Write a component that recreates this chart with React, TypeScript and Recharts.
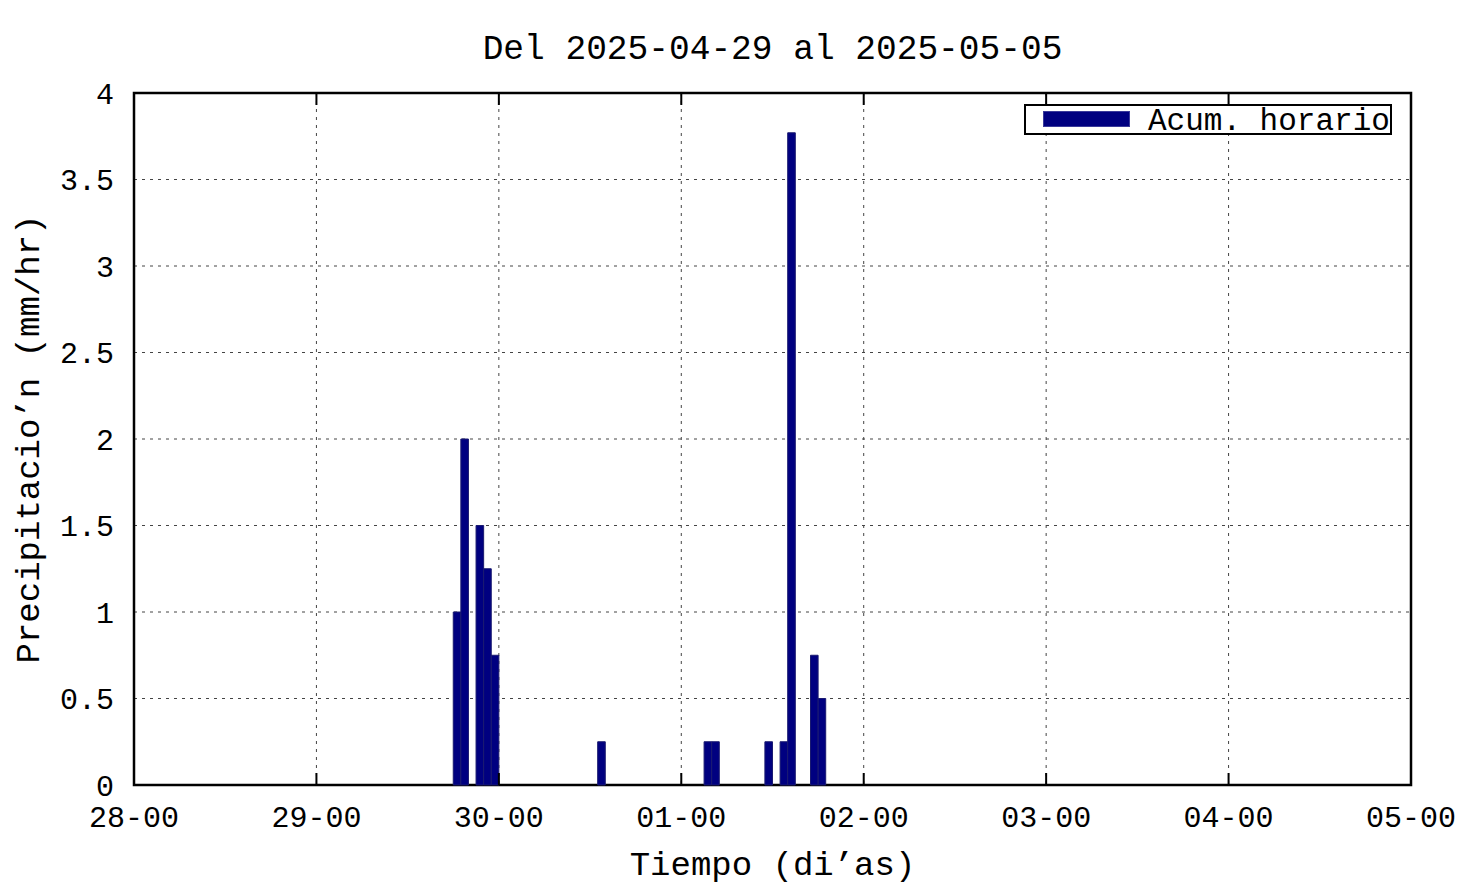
import React from 'react';
import { BarChart, Bar, XAxis, YAxis, CartesianGrid, Legend, ReferenceArea } from 'recharts';

// Hours since 2025-04-28 00:00 at which each hourly accumulation bar starts
const barHours = [42, 43, 45, 46, 47, 61, 75, 76, 83, 85, 86, 89, 90];
// Hourly precipitation (mm/hr)
const barValues = [1.0, 2.0, 1.5, 1.25, 0.75, 0.25, 0.25, 0.25, 0.25, 0.25, 3.77, 0.75, 0.5];

const xTicks = [0, 24, 48, 72, 96, 120, 144, 168];
const xTickLabels = ['28-00', '29-00', '30-00', '01-00', '02-00', '03-00', '04-00', '05-00'];
const yTicks = [0, 0.5, 1, 1.5, 2, 2.5, 3, 3.5, 4];
const yTickLabels = ['0', '0.5', '1', '1.5', '2', '2.5', '3', '3.5', '4'];

const title = 'Del 2025-04-29 al 2025-05-05';
const xLabel = 'Tiempo (di\u2019as)';
const yLabel = 'Precipitacio\u2019n (mm/hr)';
const seriesName = 'Acum. horario';

const data = barHours.map((h, i) => ({ t: h + 0.5, v: barValues[i] }));

const FONT = '"Liberation Mono", "DejaVu Sans Mono", monospace';
const BAR_FILL = '#000080';

const TitleLabel = (props: any) => {
  const vb = props.viewBox || {};
  return (
    <text x={vb.x + vb.width / 2} y={vb.y - 34} textAnchor="middle" fontFamily={FONT} fontSize={34.5} fill="#000">
      {title}
    </text>
  );
};

const XLabel = (props: any) => {
  const vb = props.viewBox || {};
  return (
    <text x={vb.x + vb.width / 2} y={vb.y + 90} textAnchor="middle" fontFamily={FONT} fontSize={34} fill="#000">
      {xLabel}
    </text>
  );
};

const YLabel = (props: any) => {
  const vb = props.viewBox || {};
  const x = vb.x + 39;
  const y = vb.y + vb.height / 2;
  return (
    <text x={x} y={y} transform={`rotate(-90, ${x}, ${y})`} textAnchor="middle" fontFamily={FONT} fontSize={34} fill="#000">
      {yLabel}
    </text>
  );
};

const EmptyTick = () => <g />;

const LegendBox = () => (
  <div
    style={{
      position: 'relative',
      width: 368,
      height: 31,
      boxSizing: 'border-box',
      border: '2px solid #000',
      background: '#fff',
    }}
  >
    <div
      style={{
        position: 'absolute',
        left: 17,
        top: 5,
        width: 87,
        height: 16,
        background: BAR_FILL,
        boxSizing: 'border-box',
        border: '1px solid #3a3a9a',
      }}
    />
    <span
      style={{
        position: 'absolute',
        left: 122,
        top: 1,
        lineHeight: '29px',
        fontFamily: FONT,
        fontSize: 31,
        color: '#000',
        whiteSpace: 'nowrap',
      }}
    >
      {seriesName}
    </span>
  </div>
);

const tickLine = { stroke: '#000', strokeWidth: 2 };
const tickStyle = { fontFamily: FONT, fontSize: 30, fill: '#000' };

export default function App() {
  return (
    <div style={{ position: 'absolute', left: 0, top: 0, width: 1476, height: 885, background: '#fff' }}>
      <BarChart
        width={1476}
        height={885}
        data={data}
        margin={{ top: 93, right: 65, bottom: 0, left: 0 }}
        barCategoryGap={0}
        barGap={0}
      >
        <CartesianGrid stroke="#444" strokeDasharray="3 5" strokeWidth={1} />
        {/* inward tick marks on all four sides */}
        <XAxis
          xAxisId="bm"
          orientation="bottom"
          type="number"
          dataKey="t"
          domain={[0, 168]}
          ticks={xTicks}
          height={1}
          mirror
          axisLine={false}
          tickLine={tickLine}
          tickSize={12}
          tick={<EmptyTick />}
          interval={0}
        />
        <XAxis
          xAxisId="top"
          orientation="top"
          type="number"
          dataKey="t"
          domain={[0, 168]}
          ticks={xTicks}
          height={1}
          mirror
          axisLine={false}
          tickLine={tickLine}
          tickSize={12}
          tick={<EmptyTick />}
          interval={0}
          label={<TitleLabel />}
        />
        <YAxis
          yAxisId="lm"
          orientation="left"
          type="number"
          domain={[0, 4]}
          ticks={yTicks}
          width={1}
          mirror
          axisLine={false}
          tickLine={tickLine}
          tickSize={12}
          tick={<EmptyTick />}
          interval={0}
        />
        <YAxis
          yAxisId="right"
          orientation="right"
          type="number"
          domain={[0, 4]}
          ticks={yTicks}
          width={1}
          mirror
          axisLine={false}
          tickLine={tickLine}
          tickSize={12}
          tick={<EmptyTick />}
          interval={0}
        />
        {/* labelled axes */}
        <XAxis
          xAxisId={0}
          dataKey="t"
          type="number"
          domain={[0, 168]}
          ticks={xTicks}
          tickFormatter={(v: number) => xTickLabels[xTicks.indexOf(v)]}
          height={100}
          axisLine={false}
          tickLine={false}
          tickSize={0}
          tickMargin={21}
          tick={tickStyle}
          interval={0}
          label={<XLabel />}
        />
        <YAxis
          yAxisId={0}
          type="number"
          domain={[0, 4]}
          ticks={yTicks}
          tickFormatter={(v: number) => yTickLabels[yTicks.indexOf(v)]}
          width={134}
          axisLine={false}
          tickLine={false}
          tickSize={0}
          tickMargin={20}
          tick={tickStyle}
          interval={0}
          label={<YLabel />}
        />
        <Legend
          layout="vertical"
          align="center"
          verticalAlign="middle"
          wrapperStyle={{ top: 104, left: 1024, width: 368, height: 31 }}
          content={() => <LegendBox />}
        />
        <Bar
          dataKey="v"
          name={seriesName}
          xAxisId={0}
          yAxisId={0}
          fill={BAR_FILL}
          stroke="#1a1a70"
          strokeWidth={1}
          barSize={7.6}
          isAnimationActive={false}
        />
        <ReferenceArea
          xAxisId={0}
          yAxisId={0}
          x1={0}
          x2={168}
          y1={0}
          y2={4}
          fill="none"
          fillOpacity={0}
          stroke="#000"
          strokeWidth={2.5}
          ifOverflow="visible"
        />
      </BarChart>
    </div>
  );
}
